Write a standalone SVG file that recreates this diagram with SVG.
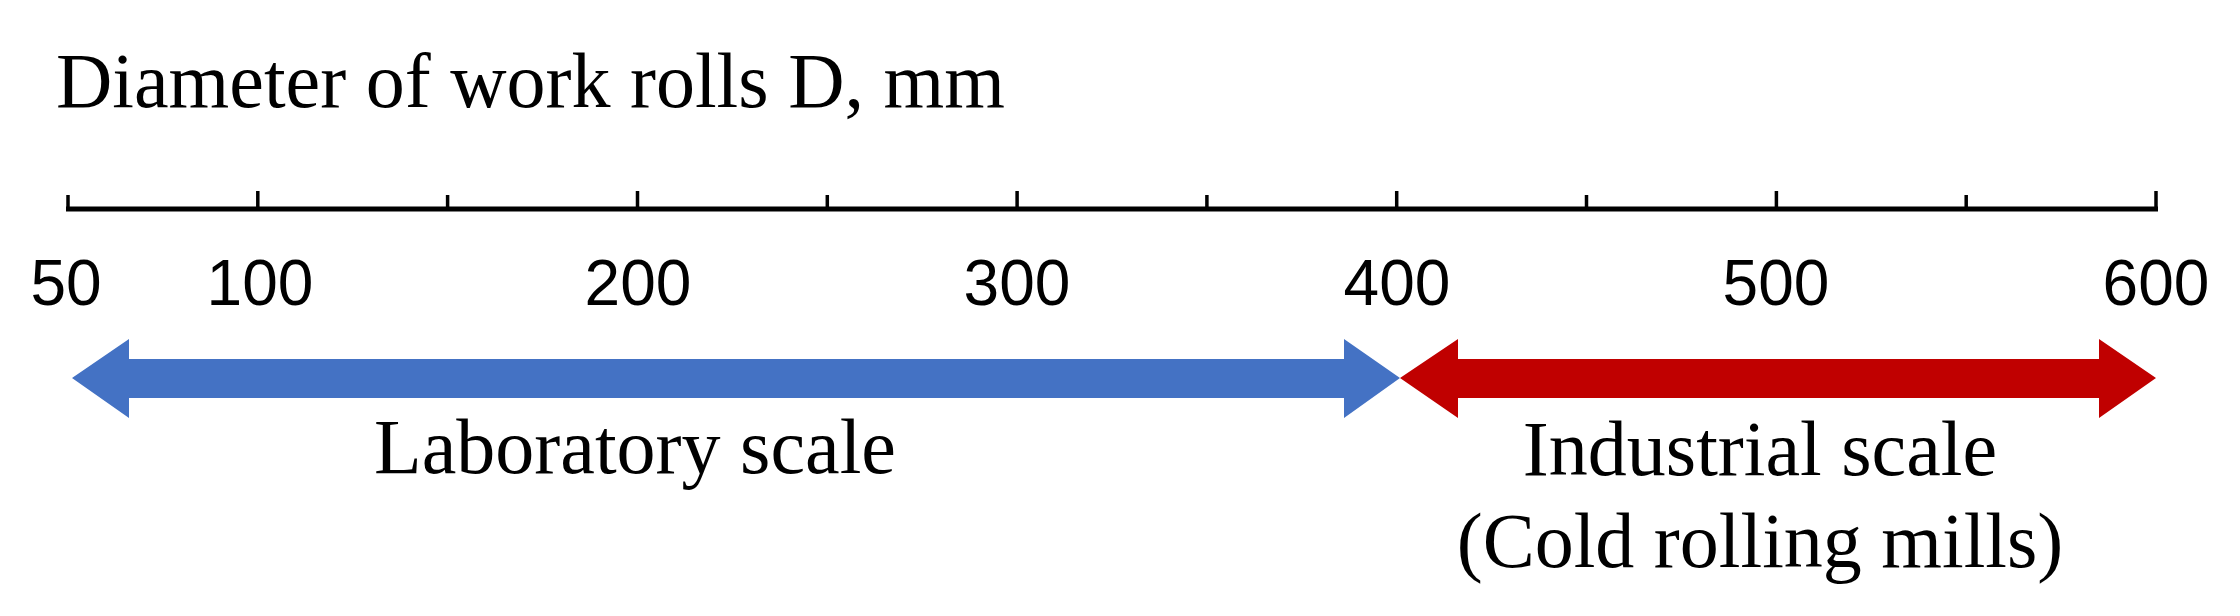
<svg xmlns="http://www.w3.org/2000/svg" width="2240" height="616" viewBox="0 0 2240 616">
<style>
.serif{font-family:"Liberation Serif","Times New Roman",serif;font-size:78px;fill:#000}
.num{font-family:"Liberation Sans",Arial,sans-serif;font-size:64px;fill:#000;text-anchor:middle}
.tick{stroke:#000;stroke-width:3.5}
.axis{stroke:#000;stroke-width:5;fill:none}
</style>
<rect width="2240" height="616" fill="#fff"/>
<g id="title">
<text class="serif" x="56" y="107">Diameter of work rolls D, mm</text>
</g>
<g id="axis">
<line class="axis" x1="66" y1="209" x2="2158" y2="209"/>
<line class="tick" x1="68" y1="195" x2="68" y2="209"/>
<line class="tick" x1="257.8" y1="191" x2="257.8" y2="209"/>
<line class="tick" x1="447.6" y1="195" x2="447.6" y2="209"/>
<line class="tick" x1="637.5" y1="191" x2="637.5" y2="209"/>
<line class="tick" x1="827.3" y1="195" x2="827.3" y2="209"/>
<line class="tick" x1="1017.1" y1="191" x2="1017.1" y2="209"/>
<line class="tick" x1="1206.9" y1="195" x2="1206.9" y2="209"/>
<line class="tick" x1="1396.7" y1="191" x2="1396.7" y2="209"/>
<line class="tick" x1="1586.5" y1="195" x2="1586.5" y2="209"/>
<line class="tick" x1="1776.4" y1="191" x2="1776.4" y2="209"/>
<line class="tick" x1="1966.2" y1="195" x2="1966.2" y2="209"/>
<line class="tick" x1="2156" y1="191" x2="2156" y2="209"/>
</g>
<g id="axis-labels">
<text class="num" x="66" y="305">50</text>
<text class="num" x="260" y="305">100</text>
<text class="num" x="638" y="305">200</text>
<text class="num" x="1017" y="305">300</text>
<text class="num" x="1397" y="305">400</text>
<text class="num" x="1776" y="305">500</text>
<text class="num" x="2156" y="305">600</text>
</g>
<g id="connectors">
<polygon id="lab-arrow" fill="#4472C4" points="72,378 129,339 129,359 1344,359 1344,339 1400,378 1344,418 1344,398 129,398 129,418"/>
<polygon id="ind-arrow" fill="#C00000" points="1400,378 1458,339 1458,359 2099,359 2099,339 2156,378 2099,418 2099,398 1458,398 1458,418"/>
</g>
<g id="lab-label">
<text class="serif" x="635" y="473" text-anchor="middle">Laboratory scale</text>
</g>
<g id="ind-label">
<text class="serif" x="1760" y="475" text-anchor="middle">Industrial scale</text>
<text class="serif" x="1760" y="567" text-anchor="middle">(Cold rolling mills)</text>
</g>
</svg>
